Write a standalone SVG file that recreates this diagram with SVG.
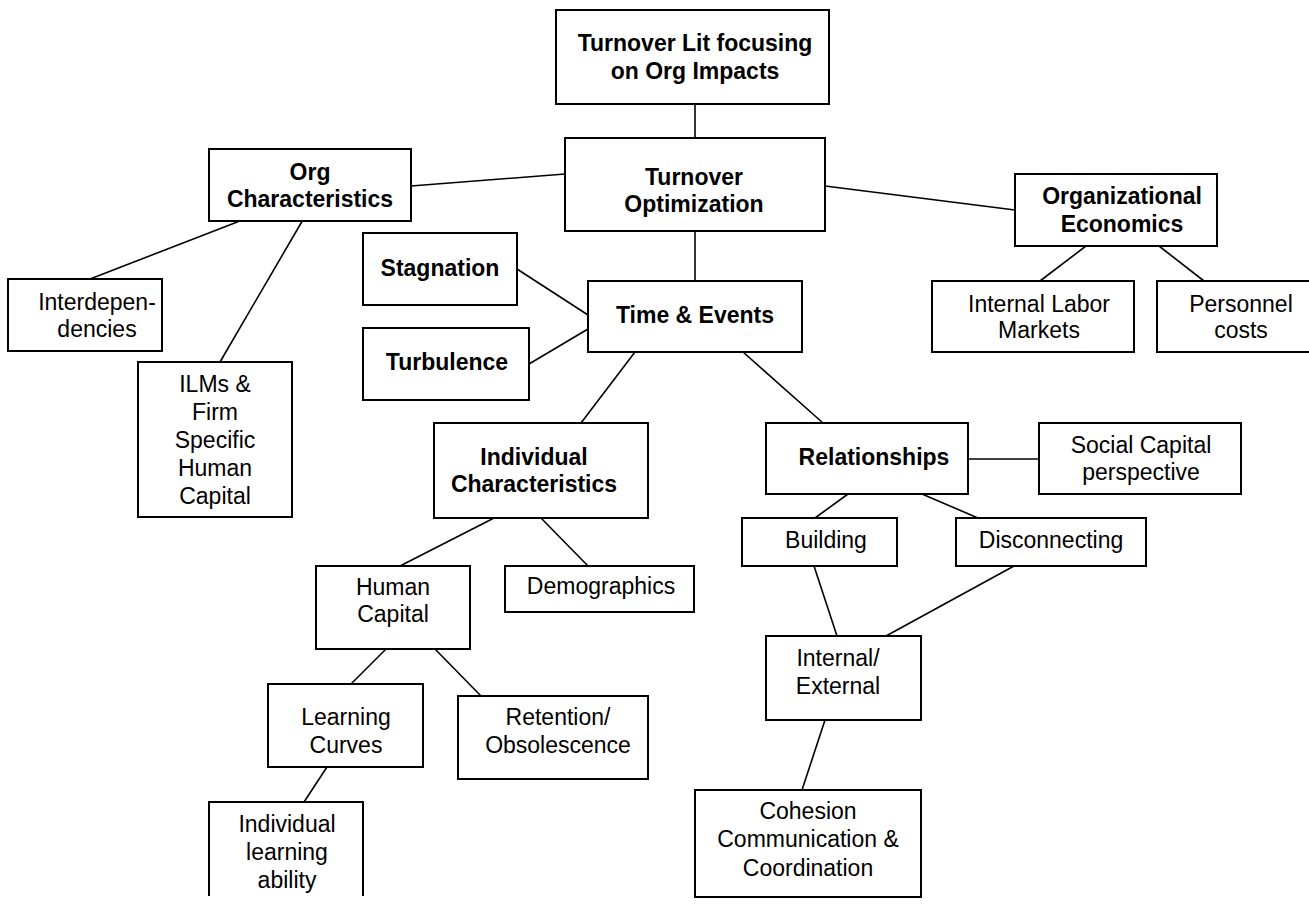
<svg xmlns="http://www.w3.org/2000/svg" width="1309" height="905" viewBox="0 0 1309 905">
  <style>
    .box { fill: #fff; stroke: #000; stroke-width: 2; }
    .open { fill: none; stroke: #000; stroke-width: 2; }
    .link { stroke: #000; stroke-width: 1.6; fill: none; }
    text { font-family: "Liberation Sans", Arial, sans-serif; font-size: 23px; fill: #000; text-anchor: middle; }
    .b { font-weight: bold; }
  </style>
  <rect width="1309" height="905" fill="#fff"/>

  <!-- connectors -->
  <g id="connectors">
    <line class="link" x1="695" y1="104" x2="695" y2="138"/>
    <line class="link" x1="695" y1="231" x2="695" y2="281"/>
    <line class="link" x1="411" y1="186" x2="565" y2="174"/>
    <line class="link" x1="825" y1="186" x2="1015" y2="210"/>
    <line class="link" x1="245" y1="219" x2="90" y2="279"/>
    <line class="link" x1="304" y1="218" x2="220" y2="362"/>
    <line class="link" x1="1086" y1="246" x2="1040" y2="281"/>
    <line class="link" x1="1159" y1="246" x2="1204" y2="281"/>
    <line class="link" x1="517" y1="269" x2="588" y2="315"/>
    <line class="link" x1="529" y1="364" x2="588" y2="329"/>
    <line class="link" x1="635" y1="352" x2="581" y2="423"/>
    <line class="link" x1="743" y1="352" x2="823" y2="423"/>
    <line class="link" x1="968" y1="459" x2="1039" y2="459"/>
    <line class="link" x1="494" y1="518" x2="400" y2="566"/>
    <line class="link" x1="541" y1="518" x2="588" y2="566"/>
    <line class="link" x1="386" y1="649" x2="351" y2="684"/>
    <line class="link" x1="435" y1="649" x2="481" y2="696"/>
    <line class="link" x1="327" y1="767" x2="304" y2="802"/>
    <line class="link" x1="848" y1="494" x2="815" y2="518"/>
    <line class="link" x1="922" y1="494" x2="978" y2="518"/>
    <line class="link" x1="814" y1="566" x2="837" y2="636"/>
    <line class="link" x1="1014" y1="566" x2="886" y2="636"/>
    <line class="link" x1="825" y1="720" x2="802" y2="790"/>
  </g>

  <g id="turnover-lit">
    <rect class="box" x="556" y="10" width="273" height="94"/>
    <text class="b" x="695" y="51">Turnover Lit focusing</text>
    <text class="b" x="695" y="79">on Org Impacts</text>
  </g>

  <g id="turnover-optimization">
    <rect class="box" x="565" y="138" width="260" height="93"/>
    <text class="b" x="694" y="185">Turnover</text>
    <text class="b" x="694" y="212">Optimization</text>
  </g>

  <g id="org-characteristics">
    <rect class="box" x="209" y="149" width="202" height="72"/>
    <text class="b" x="310" y="180">Org</text>
    <text class="b" x="310" y="207">Characteristics</text>
  </g>

  <g id="organizational-economics">
    <rect class="box" x="1015" y="174" width="202" height="72"/>
    <text class="b" x="1122" y="204">Organizational</text>
    <text class="b" x="1122" y="232">Economics</text>
  </g>

  <g id="interdependencies">
    <rect class="box" x="8" y="279" width="154" height="72"/>
    <text x="97" y="310">Interdepen-</text>
    <text x="97" y="337">dencies</text>
  </g>

  <g id="ilms">
    <rect class="box" x="138" y="362" width="154" height="155"/>
    <text x="215" y="392">ILMs &amp;</text>
    <text x="215" y="420">Firm</text>
    <text x="215" y="448">Specific</text>
    <text x="215" y="476">Human</text>
    <text x="215" y="504">Capital</text>
  </g>

  <g id="stagnation">
    <rect class="box" x="363" y="233" width="154" height="72"/>
    <text class="b" x="440" y="276">Stagnation</text>
  </g>

  <g id="turbulence">
    <rect class="box" x="363" y="328" width="166" height="72"/>
    <text class="b" x="447" y="370">Turbulence</text>
  </g>

  <g id="time-events">
    <rect class="box" x="588" y="281" width="214" height="71"/>
    <text class="b" x="695" y="323">Time &amp; Events</text>
  </g>

  <g id="internal-labor-markets">
    <rect class="box" x="932" y="281" width="202" height="71"/>
    <text x="1039" y="312">Internal Labor</text>
    <text x="1039" y="338">Markets</text>
  </g>

  <g id="personnel-costs">
    <path class="open" d="M1312,281 H1157 V352 H1312"/>
    <text x="1241" y="312">Personnel</text>
    <text x="1241" y="338">costs</text>
  </g>

  <g id="individual-characteristics">
    <rect class="box" x="434" y="423" width="214" height="95"/>
    <text class="b" x="534" y="465">Individual</text>
    <text class="b" x="534" y="492">Characteristics</text>
  </g>

  <g id="relationships">
    <rect class="box" x="766" y="423" width="202" height="71"/>
    <text class="b" x="874" y="465">Relationships</text>
  </g>

  <g id="social-capital">
    <rect class="box" x="1039" y="423" width="202" height="71"/>
    <text x="1141" y="453">Social Capital</text>
    <text x="1141" y="480">perspective</text>
  </g>

  <g id="building">
    <rect class="box" x="742" y="518" width="155" height="48"/>
    <text x="826" y="548">Building</text>
  </g>

  <g id="disconnecting">
    <rect class="box" x="956" y="518" width="190" height="48"/>
    <text x="1051" y="548">Disconnecting</text>
  </g>

  <g id="human-capital">
    <rect class="box" x="316" y="566" width="154" height="83"/>
    <text x="393" y="595">Human</text>
    <text x="393" y="622">Capital</text>
  </g>

  <g id="demographics">
    <rect class="box" x="505" y="566" width="189" height="46"/>
    <text x="601" y="594">Demographics</text>
  </g>

  <g id="internal-external">
    <rect class="box" x="766" y="636" width="155" height="84"/>
    <text x="838" y="666">Internal/</text>
    <text x="838" y="694">External</text>
  </g>

  <g id="learning-curves">
    <rect class="box" x="268" y="684" width="155" height="83"/>
    <text x="346" y="725">Learning</text>
    <text x="346" y="753">Curves</text>
  </g>

  <g id="retention-obsolescence">
    <rect class="box" x="458" y="696" width="190" height="83"/>
    <text x="558" y="725">Retention/</text>
    <text x="558" y="753">Obsolescence</text>
  </g>

  <g id="cohesion">
    <rect class="box" x="695" y="790" width="226" height="107"/>
    <text x="808" y="819">Cohesion</text>
    <text x="808" y="847">Communication &amp;</text>
    <text x="808" y="876">Coordination</text>
  </g>

  <g id="individual-learning-ability">
    <path class="open" d="M209,896 V802 H363 V896"/>
    <text x="287" y="832">Individual</text>
    <text x="287" y="860">learning</text>
    <text x="287" y="888">ability</text>
  </g>
</svg>
